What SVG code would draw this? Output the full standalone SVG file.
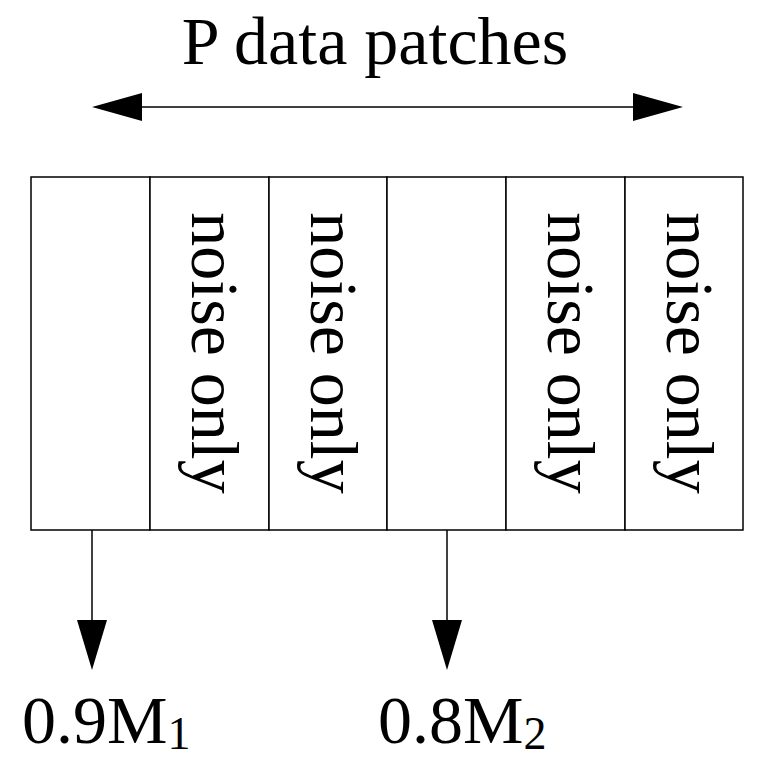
<svg xmlns="http://www.w3.org/2000/svg" width="763" height="765" viewBox="0 0 763 765">
<style>
.t{font-family:"Liberation Serif",serif;font-size:68px;fill:#000}
.v{font-family:"Liberation Serif",serif;font-size:68px;fill:#000;text-anchor:middle}
.c{fill:#fff;stroke:#000;stroke-width:1.5}
.l{stroke:#000;stroke-width:1.5;fill:none}
</style>
<rect width="763" height="765" fill="#fff"/>
<text class="t" x="375" y="64" text-anchor="middle">P data patches</text>
<g id="connectors">
<path class="l" d="M140,107H635"/>
<path d="M92,107L142,93V121Z M683,107L633,93V121Z" fill="#000"/>
<path class="l" d="M92,530V622"/>
<path d="M92,670L77,620H107Z" fill="#000"/>
<path class="l" d="M447,530V622"/>
<path d="M447,670L432,620H462Z" fill="#000"/>
</g>
<g id="p1"><rect class="c" x="31" y="177" width="119" height="353"/></g>
<g id="p2"><rect class="c" x="150" y="177" width="119" height="353"/><text class="v" transform="translate(192,353) rotate(90)">noise only</text></g>
<g id="p3"><rect class="c" x="269" y="177" width="118" height="353"/><text class="v" transform="translate(311,353) rotate(90)">noise only</text></g>
<g id="p4"><rect class="c" x="387" y="177" width="119" height="353"/></g>
<g id="p5"><rect class="c" x="506" y="177" width="119" height="353"/><text class="v" transform="translate(548,353) rotate(90)">noise only</text></g>
<g id="p6"><rect class="c" x="625" y="177" width="118" height="353"/><text class="v" transform="translate(667,353) rotate(90)">noise only</text></g>
<g id="l1"><text class="t" x="22" y="743">0.9M<tspan font-size="46" dy="6">1</tspan></text></g>
<g id="l2"><text class="t" x="378" y="743">0.8M<tspan font-size="46" dy="6">2</tspan></text></g>
</svg>
